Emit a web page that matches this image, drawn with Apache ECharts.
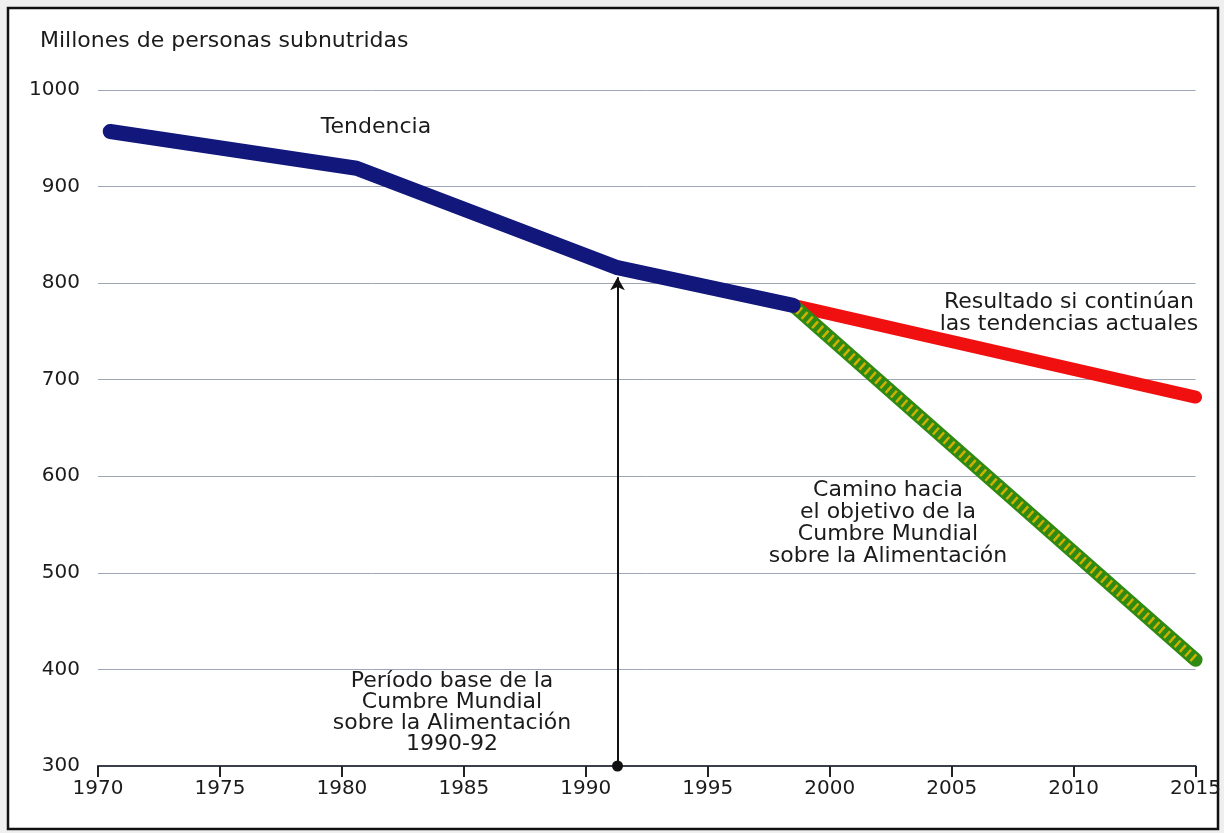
<!DOCTYPE html>
<html>
<head>
<meta charset="utf-8">
<script src="https://cdn.jsdelivr.net/npm/echarts@6/dist/echarts.min.js"></script>
<style>
html,body{margin:0;padding:0;background:#efefef;}
#main{width:1224px;height:833px;}
</style>
</head>
<body>
<div id="main"></div>
<script>
// ---- data ----
const yTitle = 'Millones de personas subnutridas';
const xTicks = [1970, 1975, 1980, 1985, 1990, 1995, 2000, 2005, 2010, 2015];
const yTicks = [300, 400, 500, 600, 700, 800, 900, 1000];
const tendYears = [1970.5, 1980.6, 1991.3, 1998.5];
const tendValues = [957, 919, 816, 777];
const resYears = [1998.5, 2015];
const resValues = [777, 682];
const camYears = [1998.5, 2015];
const camValues = [777, 410];
const baseYear = 1991.3;
const arrowFrom = 300;
const arrowTo = 806;

const FONT = 'DejaVu Sans';
const TXT = '#1b1b1b';

const zip = (xs, ys) => xs.map((x, i) => [x, ys[i]]);

const chart = echarts.init(document.getElementById('main'), null, {renderer: 'canvas'});

const textEl = (x, y, lines, lh) => ({
  type: 'text', x: x, y: y, z: 50,
  style: {
    text: lines.join('\n'), fill: TXT, font: '22px "' + FONT + '"',
    textAlign: 'center', textVerticalAlign: 'top', lineHeight: lh || 22
  }
});

const option = {
  backgroundColor: '#efefef',
  animation: false,
  grid: {left: 98, right: 26, top: 90, bottom: 67, containLabel: false},
  xAxis: {
    type: 'value', min: 1970, max: 2015, interval: 5,
    axisLine: {show: true, lineStyle: {color: '#3a3f4a', width: 2}},
    axisTick: {show: true, length: 11, lineStyle: {color: '#222', width: 2}},
    axisLabel: {color: TXT, fontFamily: FONT, fontSize: 20, margin: 13,
      formatter: v => xTicks.includes(v) ? String(v) : ''},
    splitLine: {show: false}
  },
  yAxis: {
    type: 'value', min: 300, max: 1000, interval: 100,
    axisLine: {show: false}, axisTick: {show: false},
    axisLabel: {color: TXT, fontFamily: FONT, fontSize: 20, margin: 18,
      padding: [0, 0, 8, 0],
      formatter: v => yTicks.includes(v) ? String(v) : ''},
    splitLine: {show: true, lineStyle: {color: '#9ea6b8', width: 1}}
  },
  graphic: [
    {type: 'rect', z: -10, shape: {x: 8, y: 8, width: 1210, height: 821},
     style: {fill: '#ffffff', stroke: '#111', lineWidth: 2.5}},
    {type: 'text', x: 40, y: 30, z: 50,
     style: {text: yTitle, fill: TXT, font: '22px "' + FONT + '"'}},
    textEl(376, 116, ['Tendencia']),
    textEl(1069, 291, ['Resultado si continúan', 'las tendencias actuales']),
    textEl(888, 479, ['Camino hacia', 'el objetivo de la', 'Cumbre Mundial', 'sobre la Alimentación']),
    textEl(452, 671, ['Período base de la', 'Cumbre Mundial', 'sobre la Alimentación', '1990-92'], 21)
  ],
  series: [
    {
      name: 'Camino', type: 'line', data: zip(camYears, camValues), symbol: 'none',
      z: 3, lineStyle: {color: '#2e8a10', width: 14, cap: 'round'}
    },
    {
      name: 'CaminoStripes', type: 'line', data: zip(camYears, camValues), symbol: 'none',
      z: 4, lineStyle: {color: '#cfb000', width: 9, type: [2.5, 4.5], cap: 'butt'}
    },
    {
      name: 'Resultado', type: 'line', data: zip(resYears, resValues), symbol: 'none',
      z: 2, lineStyle: {color: '#f01010', width: 13, cap: 'round'}
    },
    {
      name: 'Tendencia', type: 'line', data: zip(tendYears, tendValues), symbol: 'none',
      z: 5, lineStyle: {color: '#12177c', width: 15, cap: 'round', join: 'round'},
      markLine: {
        silent: true, symbol: ['circle', 'arrow'], symbolSize: [11, 13],
        label: {show: false},
        lineStyle: {color: '#111', width: 2, type: 'solid'},
        data: [[{coord: [baseYear, arrowFrom]}, {coord: [baseYear, arrowTo]}]]
      }
    }
  ]
};
chart.setOption(option);
</script>
</body>
</html>
